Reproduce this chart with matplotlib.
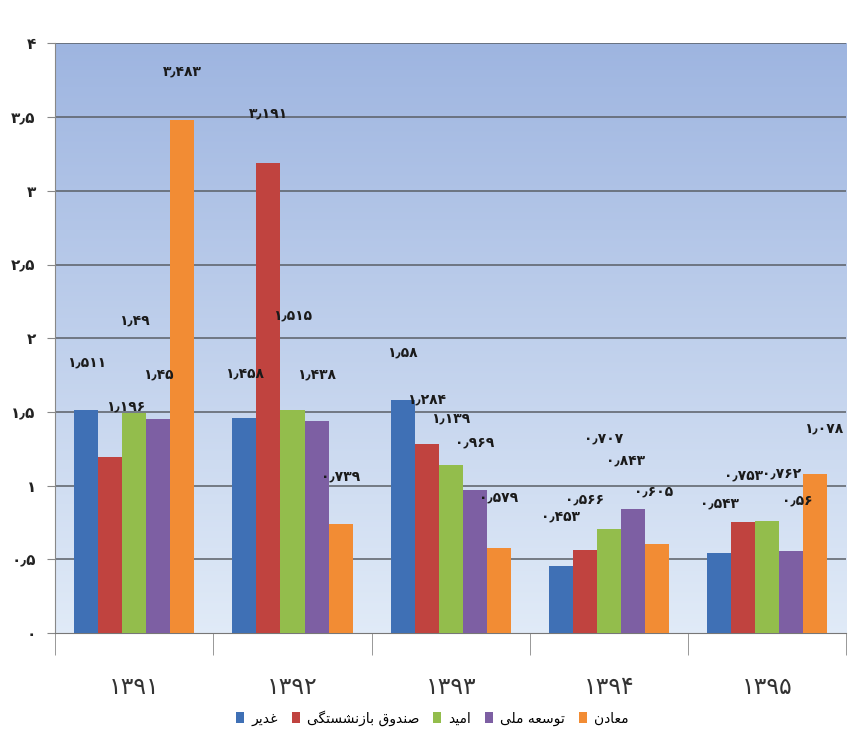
import matplotlib
matplotlib.use("Agg")
import matplotlib.pyplot as plt
import numpy as np

# data
years = ["1391", "1392", "1393", "1394", "1395"]
series_names = ["غدیر", "صندوق بازنشستگی", "امید", "توسعه ملی", "معادن"]
ghadir = [1.511, 1.458, 1.58, 0.453, 0.543]
sandoogh = [1.196, 3.191, 1.284, 0.566, 0.753]
omid = [1.49, 1.515, 1.139, 0.707, 0.762]
tosee = [1.45, 1.438, 0.969, 0.843, 0.56]
maaden = [3.483, 0.739, 0.579, 0.605, 1.078]

colors = ["#3f70b5", "#c0433f", "#93bd4c", "#7d5fa3", "#f28c34"]

# label offsets (pixels) as placed in the original chart
label_dx = [[0, 0, 0, 0, 0],
            [15, 0, 0, 0, 0],
            [0, 0, 0, -5, 14],
            [0, 0, 0, -8, 6],
            [0, 0, 0, -3, 8]]
label_dy = [[48, 45, 48, 50, 49],
            [50, 49, 44, 50, 47],
            [93, 94, 47, 90, 47],
            [45, 47, 48, 48, 50],
            [48, 48, 50, 52, 46]]

# minimal arabic shaping, matplotlib draws glyphs left to right unjoined
FORMS = {
    "ا": ("\uFE8D", "\uFE8E", None, None),
    "ب": ("\uFE8F", "\uFE90", "\uFE91", "\uFE92"),
    "ت": ("\uFE95", "\uFE96", "\uFE97", "\uFE98"),
    "د": ("\uFEA9", "\uFEAA", None, None),
    "ر": ("\uFEAD", "\uFEAE", None, None),
    "ز": ("\uFEAF", "\uFEB0", None, None),
    "س": ("\uFEB1", "\uFEB2", "\uFEB3", "\uFEB4"),
    "ش": ("\uFEB5", "\uFEB6", "\uFEB7", "\uFEB8"),
    "ص": ("\uFEB9", "\uFEBA", "\uFEBB", "\uFEBC"),
    "ع": ("\uFEC9", "\uFECA", "\uFECB", "\uFECC"),
    "غ": ("\uFECD", "\uFECE", "\uFECF", "\uFED0"),
    "ق": ("\uFED5", "\uFED6", "\uFED7", "\uFED8"),
    "ل": ("\uFEDD", "\uFEDE", "\uFEDF", "\uFEE0"),
    "م": ("\uFEE1", "\uFEE2", "\uFEE3", "\uFEE4"),
    "ن": ("\uFEE5", "\uFEE6", "\uFEE7", "\uFEE8"),
    "ه": ("\uFEE9", "\uFEEA", "\uFEEB", "\uFEEC"),
    "و": ("\uFEED", "\uFEEE", None, None),
    "ی": ("\uFBFC", "\uFBFD", "\uFBFE", "\uFBFF"),
    "گ": ("\uFB92", "\uFB93", "\uFB94", "\uFB95"),
    "ک": ("\uFB8E", "\uFB8F", "\uFB90", "\uFB91"),
}


def shape(text):
    out = []
    for i, c in enumerate(text):
        if c not in FORMS:
            out.append(c)
            continue
        prev = text[i - 1] if i > 0 else None
        nxt = text[i + 1] if i + 1 < len(text) else None
        join_prev = prev in FORMS and FORMS[prev][2] is not None
        join_next = nxt in FORMS and FORMS[c][2] is not None
        iso, fin, ini, med = FORMS[c]
        if join_prev and join_next:
            out.append(med)
        elif join_prev:
            out.append(fin)
        elif join_next:
            out.append(ini)
        else:
            out.append(iso)
    return "".join(reversed(out))


def fa(s):
    return str(s).translate(str.maketrans("0123456789.", "۰۱۲۳۴۵۶۷۸۹٫"))


plt.rcParams["font.family"] = ["DejaVu Sans"]

fig = plt.figure(figsize=(8.48, 7.37), dpi=100)
ax = fig.add_axes([0.065, 0.141, 0.933, 0.8])

# gradient plot background
grad = np.linspace(0, 1, 256).reshape(-1, 1)
top = np.array([0.62, 0.71, 0.88])
bot = np.array([0.88, 0.92, 0.97])
img = bot + (top - bot) * grad
ax.imshow(img[:, None, :].repeat(2, axis=1), extent=[-0.5, 4.5, 0, 4],
          origin="lower", aspect="auto", zorder=0)

all_series = [ghadir, sandoogh, omid, tosee, maaden]
x = np.arange(len(years))
w = 0.152
for i, vals in enumerate(all_series):
    pos = x + (i - 2) * w
    ax.bar(pos, vals, width=w, color=colors[i], label=shape(series_names[i]), zorder=3)
    for j, v in enumerate(vals):
        ax.annotate(fa(v), (pos[j], v), xytext=(label_dx[i][j] * 0.72, label_dy[i][j] * 0.72),
                    textcoords="offset points", ha="center", va="center",
                    fontsize=10, fontweight="bold", color="#1a1a1a", zorder=5)

ax.set_xlim(-0.5, 4.5)
ax.set_ylim(0, 4)
yt = np.arange(0, 4.01, 0.5)
ax.set_yticks(yt)
ax.set_yticklabels([fa(f"{t:g}") for t in yt], fontsize=11, fontweight="bold", color="#222222")
for t in yt[1:]:
    ax.axhline(t, color="#5a5f66", lw=1.1, zorder=1)

ax.set_xticks(x)
ax.set_xticklabels([fa(y) for y in years], fontsize=17, color="#333333")
ax.set_xticks(np.arange(-0.5, 4.6, 1), minor=True)
ax.tick_params(axis="x", which="major", length=0, pad=30)
ax.tick_params(axis="x", which="minor", length=16, color="#888888", direction="out")
ax.tick_params(axis="y", length=6, color="#888888", pad=8)

for s in ["top", "right"]:
    ax.spines[s].set_visible(False)
ax.spines["left"].set_color("#888888")
ax.spines["bottom"].set_color("#777777")

fig.legend(loc="center", bbox_to_anchor=(0.51, 0.026), ncol=5, frameon=False,
           fontsize=10, handlelength=0.6, handleheight=0.9, handletextpad=0.5,
           columnspacing=1.0)

fig.savefig("out.png", dpi=100)
